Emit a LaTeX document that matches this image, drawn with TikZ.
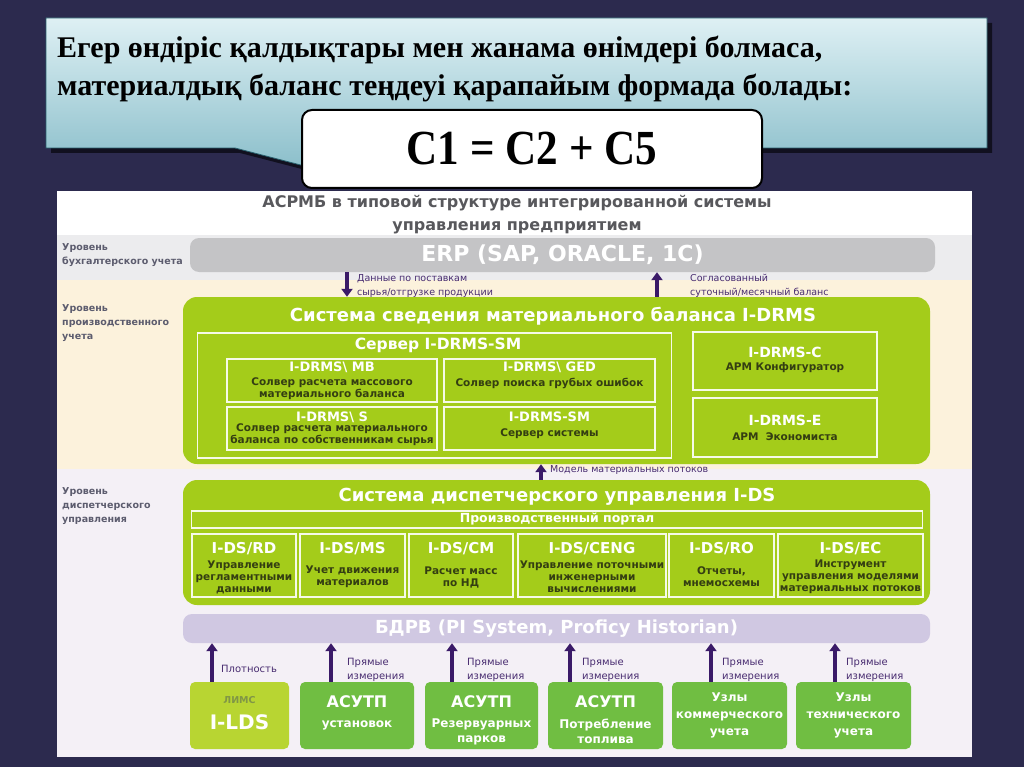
\documentclass[tikz,border=0pt]{standalone}
\usepackage{fontspec}
\setmainfont{Liberation Serif}
\setsansfont{DejaVu Sans}
\newfontfamily\headfont{Liberation Serif}
\newfontfamily\eqfont{Liberation Serif}[FakeStretch=0.88]
\usepackage{xcolor}
\usepackage{tikz}
\usetikzlibrary{arrows.meta, positioning, shadows}

\definecolor{slidebg}{RGB}{44,42,78}
\definecolor{calltop}{RGB}{222,240,244}
\definecolor{callbot}{RGB}{138,190,202}
\definecolor{callline}{RGB}{40,95,108}
\definecolor{bandgrey}{RGB}{236,236,238}
\definecolor{bandbeige}{RGB}{252,242,220}
\definecolor{bandlilac}{RGB}{244,240,246}
\definecolor{erpgrey}{RGB}{196,196,198}
\definecolor{lime}{RGB}{164,204,26}
\definecolor{olive}{RGB}{52,62,18}
\definecolor{pigrey}{RGB}{208,200,226}
\definecolor{srcgreen}{RGB}{112,190,66}
\definecolor{limsgreen}{RGB}{184,213,50}
\definecolor{limstext}{RGB}{128,150,70}
\definecolor{arrowpurple}{RGB}{58,26,104}
\definecolor{notepurple}{RGB}{72,44,112}
\definecolor{levelgrey}{RGB}{92,92,110}
\definecolor{titlegrey}{RGB}{88,88,92}

\begin{document}
\begin{tikzpicture}[
  x=1pt, y=-1pt,
  lvl/.style={anchor=north west, align=left, inner sep=0pt, text=levelgrey,
              font=\sffamily\bfseries\fontsize{9.5}{14}\selectfont},
  bar/.style={rectangle, rounded corners=9pt, text=white,
              font=\sffamily\bfseries\fontsize{19}{22}\selectfont},
  bigbox/.style={rectangle, rounded corners=14pt, fill=lime},
  bigtitle/.style={inner sep=0pt, text=white, font=\sffamily\bfseries\fontsize{18}{20}\selectfont},
  frame/.style={rectangle, draw=white!90!lime, line width=1.3pt, inner sep=0pt},
  boxhead/.style={inner sep=0pt, text=white, font=\sffamily\bfseries\fontsize{13}{15}\selectfont},
  modhead/.style={inner sep=0pt, text=white, font=\sffamily\bfseries\fontsize{15}{17}\selectfont},
  boxtext/.style={inner sep=0pt, text=olive, align=center,
                  font=\sffamily\bfseries\fontsize{10.5}{12}\selectfont},
  src/.style={rectangle, rounded corners=5pt, fill=srcgreen, minimum height=67},
  srchead/.style={inner sep=0pt, text=white, font=\sffamily\bfseries\fontsize{16}{18}\selectfont},
  srctext/.style={inner sep=0pt, text=white, align=center,
                  font=\sffamily\bfseries\fontsize{12}{15}\selectfont},
  note/.style={anchor=north west, align=left, inner sep=0pt, text=notepurple,
               font=\sffamily\fontsize{9.5}{14}\selectfont},
  arrow/.style={-{Triangle[width=11pt,length=8pt]}, line width=3.5pt, arrowpurple}
]
\useasboundingbox (0,0) rectangle (1024,767);
\fill[slidebg] (0,0) rectangle (1024,767);

% callout with the heading
\shade[top color=calltop, bottom color=callbot, draw=callline, line width=0.8pt,
       drop shadow={shadow xshift=5pt, shadow yshift=-5pt, opacity=0.6, fill=black}]
  (46,18) -- (987,18) -- (987,148) -- (330,148) -- (320,170) -- (235,148) -- (46,148) -- cycle;
\node[anchor=north west, align=left, inner sep=0pt,
      font=\headfont\bfseries\fontsize{30}{38}\selectfont] (intro) at (57,36)
  {Егер өндіріс қалдықтары мен жанама өнімдері болмаса,\\материалдық баланс теңдеуі қарапайым формада болады:};
\node[rectangle, rounded corners=10pt, draw=black, line width=2pt, fill=white,
      minimum width=460, minimum height=78,
      font=\eqfont\bfseries\fontsize{49}{50}\selectfont] (eq) at (532,149) {C1 = C2 + C5};

% diagram panel and levels
\fill[white] (57,191) rectangle (972,757);
\fill[bandgrey] (57,235) rectangle (972,280);
\fill[bandbeige] (57,280) rectangle (972,469);
\fill[bandlilac] (57,469) rectangle (972,757);

\node[align=center, text=titlegrey, font=\sffamily\bfseries\fontsize{16}{23}\selectfont] (title) at (517,215)
  {АСРМБ в типовой структуре интегрированной системы\\управления предприятием};

\node[lvl] (lvlacc) at (62,243) {Уровень\\бухгалтерского учета};
\node[lvl] (lvlprod) at (62,304) {Уровень\\производственного\\учета};
\node[lvl] (lvldisp) at (62,487) {Уровень\\диспетчерского\\управления};

\node[bar, fill=erpgrey, minimum width=745, minimum height=34,
      font=\sffamily\bfseries\fontsize{22}{24}\selectfont] (erp) at (562.5,255) {ERP (SAP, ORACLE, 1C)};

% I-DRMS
\node[bigbox, minimum width=747, minimum height=167] (drms) at (556.5,380.5) {};
\node[bigtitle] (drmst) at (553,316) {Система сведения материального баланса I-DRMS};
\node[frame, minimum width=474, minimum height=125] (srv) at (434.5,395.5) {};
\node[inner sep=0pt, text=white, font=\sffamily\bfseries\fontsize{15.5}{17}\selectfont] (srvt) at (438,345) {Сервер I-DRMS-SM};

\node[frame, minimum width=210, minimum height=43] (mb) at (332,380.5) {};
\node[boxhead] (mbh) at (332,367) {I-DRMS\textbackslash\ MB};
\node[boxtext] (mbt) at (332,388.5) {Солвер расчета массового\\материального баланса};
\node[frame, minimum width=211, minimum height=43] (ged) at (549.5,380.5) {};
\node[boxhead] (gedh) at (549.5,367) {I-DRMS\textbackslash\ GED};
\node[boxtext] (gedt) at (549.5,383) {Солвер поиска грубых ошибок};
\node[frame, minimum width=210, minimum height=43] (sol) at (332,428.5) {};
\node[boxhead] (solh) at (332,417) {I-DRMS\textbackslash\ S};
\node[boxtext] (solt) at (332,434.5) {Солвер расчета материального\\баланса по собственникам сырья};
\node[frame, minimum width=211, minimum height=43] (sms) at (549.5,428.5) {};
\node[boxhead] (smsh) at (549.5,417) {I-DRMS-SM};
\node[boxtext] (smst) at (549.5,434) {Сервер системы};

\node[frame, minimum width=184, minimum height=58] (cfg) at (785,361) {};
\node[boxhead, font=\sffamily\bfseries\fontsize{14}{16}\selectfont] (cfgh) at (785,352) {I-DRMS-C};
\node[boxtext] (cfgt) at (785,368) {АРМ Конфигуратор};
\node[frame, minimum width=184, minimum height=59] (eco) at (785,427.5) {};
\node[boxhead, font=\sffamily\bfseries\fontsize{14}{16}\selectfont] (ecoh) at (785,420) {I-DRMS-E};
\node[boxtext] (ecot) at (785,437) {АРМ\ \ Экономиста};

\draw[arrow] (erp.south -| 347,0) -- (drms.north -| 347,0);
\draw[arrow] (drms.north -| 657,0) -- (erp.south -| 657,0);
\node[note] (supply) at (357,274) {Данные по поставкам\\сырья/отгрузке продукции};
\node[note] (agreed) at (690,274) {Согласованный\\суточный/месячный баланс};

% I-DS
\node[bigbox, minimum width=747, minimum height=125] (ids) at (556.5,542.5) {};
\node[bigtitle] (idst) at (557,497) {Система диспетчерского управления I-DS};
\node[frame, minimum width=731, minimum height=17, text=white,
      font=\sffamily\bfseries\fontsize{12.5}{14}\selectfont] (portal) at (557,519.5) {Производственный портал};

\node[frame, minimum width=104, minimum height=63] (rd) at (244,565.5) {};
\node[modhead] (rdh) at (244,549) {I-DS/RD};
\node[boxtext] (rdt) at (244,577) {Управление\\регламентными\\данными};
\node[frame, minimum width=105, minimum height=63] (ms) at (352.5,565.5) {};
\node[modhead] (msh) at (352.5,549) {I-DS/MS};
\node[boxtext] (mst) at (352.5,577) {Учет движения\\материалов};
\node[frame, minimum width=104, minimum height=63] (cm) at (461,565.5) {};
\node[modhead] (cmh) at (461,549) {I-DS/CM};
\node[boxtext] (cmt) at (461,577) {Расчет масс\\по НД};
\node[frame, minimum width=148, minimum height=63] (ceng) at (592,565.5) {};
\node[modhead] (cengh) at (592,549) {I-DS/CENG};
\node[boxtext] (cengt) at (592,577) {Управление поточными\\инженерными\\вычислениями};
\node[frame, minimum width=105, minimum height=63] (ro) at (721.5,565.5) {};
\node[modhead] (roh) at (721.5,549) {I-DS/RO};
\node[boxtext] (rot) at (721.5,577) {Отчеты,\\мнемосхемы};
\node[frame, minimum width=145, minimum height=63] (ec) at (850.5,565.5) {};
\node[modhead] (ech) at (850.5,549) {I-DS/EC};
\node[boxtext] (ect) at (850.5,577) {Инструмент\\управления моделями\\материальных потоков};

\draw[arrow] (ids.north -| 541,0) -- (drms.south -| 541,0);
\node[note, anchor=west] (model) at (550,470) {Модель материальных потоков};

% real-time database and sources
\node[bar, fill=pigrey, minimum width=747, minimum height=29,
      font=\sffamily\bfseries\fontsize{18}{20}\selectfont] (rtdb) at (556.5,628.5) {БДРВ (PI System, Proficy Historian)};

\node[src, fill=limsgreen, minimum width=99] (lims) at (239.5,715.5) {};
\node[inner sep=0pt, text=limstext, font=\sffamily\bfseries\fontsize{9.5}{10}\selectfont] (limsh) at (239.5,700) {ЛИМС};
\node[inner sep=0pt, text=white, font=\sffamily\bfseries\fontsize{20}{22}\selectfont] (limst) at (239.5,722) {I-LDS};
\node[src, minimum width=114] (asu1) at (357,715.5) {};
\node[srchead] (asu1h) at (357,702) {АСУТП};
\node[srctext] (asu1t) at (357,725) {установок};
\node[src, minimum width=113] (asu2) at (481.5,715.5) {};
\node[srchead] (asu2h) at (481.5,702) {АСУТП};
\node[srctext] (asu2t) at (481.5,731.5) {Резервуарных\\парков};
\node[src, minimum width=115] (asu3) at (605.5,715.5) {};
\node[srchead] (asu3h) at (605.5,702) {АСУТП};
\node[srctext] (asu3t) at (605.5,731.5) {Потребление\\топлива};
\node[src, minimum width=115, text=white, align=center,
      font=\sffamily\bfseries\fontsize{12}{17}\selectfont] (com) at (729.5,715.5) {Узлы\\коммерческого\\учета};
\node[src, minimum width=115, text=white, align=center,
      font=\sffamily\bfseries\fontsize{12}{17}\selectfont] (tech) at (853.5,715.5) {Узлы\\технического\\учета};

\draw[arrow] (lims.north -| 212,0) -- (rtdb.south -| 212,0);
\draw[arrow] (asu1.north -| 331,0) -- (rtdb.south -| 331,0);
\draw[arrow] (asu2.north -| 452,0) -- (rtdb.south -| 452,0);
\draw[arrow] (asu3.north -| 570,0) -- (rtdb.south -| 570,0);
\draw[arrow] (com.north -| 711,0) -- (rtdb.south -| 711,0);
\draw[arrow] (tech.north -| 835,0) -- (rtdb.south -| 835,0);

\node[note, anchor=west, font=\sffamily\fontsize{10}{14}\selectfont] (dens) at (221,669) {Плотность};
\node[note, font=\sffamily\fontsize{10}{14}\selectfont] (meas1) at (347,658) {Прямые\\измерения};
\node[note, font=\sffamily\fontsize{10}{14}\selectfont] (meas2) at (467,658) {Прямые\\измерения};
\node[note, font=\sffamily\fontsize{10}{14}\selectfont] (meas3) at (582,658) {Прямые\\измерения};
\node[note, font=\sffamily\fontsize{10}{14}\selectfont] (meas4) at (722,658) {Прямые\\измерения};
\node[note, font=\sffamily\fontsize{10}{14}\selectfont] (meas5) at (846,658) {Прямые\\измерения};

\end{tikzpicture}
\end{document}
